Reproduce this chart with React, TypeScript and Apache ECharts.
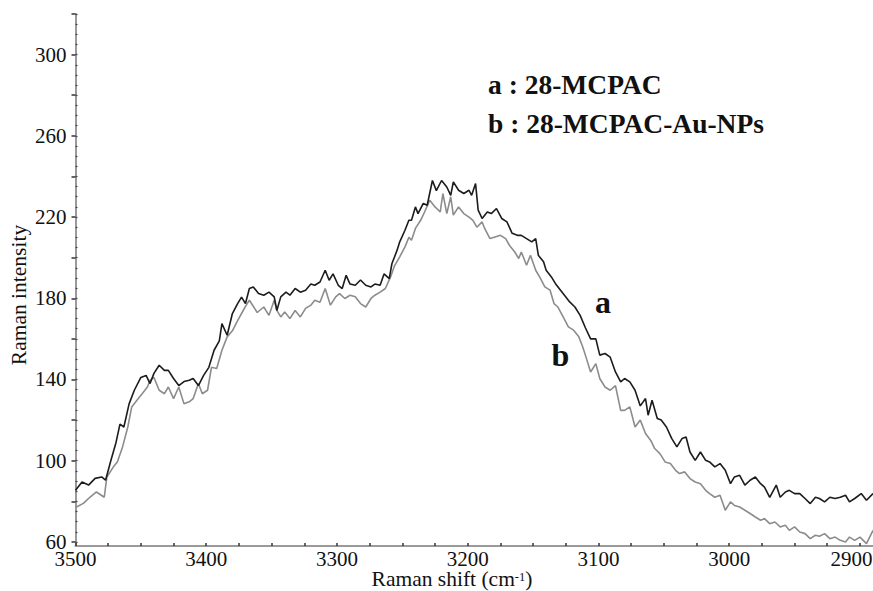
import React, { useEffect, useRef } from "react";
import * as echarts from "echarts";

// Raman shift (cm-1) and intensity for curve a : 28-MCPAC
const shiftA = [
  3500, 3495, 3490, 3485, 3480, 3477, 3473, 3469, 3466, 3463, 3459, 3455, 3450, 3446, 3443, 3440, 3436, 3432, 3429, 3425,
  3421, 3417, 3413, 3410, 3406, 3402, 3398, 3394, 3390, 3388, 3384, 3380, 3376, 3373, 3370, 3367, 3364, 3360, 3356, 3352,
  3348, 3346, 3343, 3339, 3336, 3332, 3328, 3324, 3320, 3317, 3313, 3309, 3306, 3303, 3299, 3296, 3293, 3290, 3286, 3282,
  3278, 3274, 3271, 3267, 3264, 3260, 3258, 3254, 3252, 3248, 3245, 3243, 3240, 3238, 3234, 3231, 3227, 3224, 3220, 3216,
  3213, 3211, 3207, 3203, 3199, 3197, 3194, 3192, 3189, 3185, 3182, 3178, 3174, 3170, 3166, 3162, 3159, 3155, 3151, 3148,
  3146, 3142, 3140, 3136, 3133, 3129, 3126, 3122, 3118, 3114, 3110, 3106, 3102, 3099, 3095, 3091, 3087, 3083, 3080, 3076,
  3072, 3068, 3064, 3062, 3059, 3055, 3052, 3048, 3044, 3040, 3036, 3033, 3030, 3026, 3022, 3018, 3015, 3011, 3007, 3003,
  2999, 2996, 2992, 2988, 2984, 2980, 2976, 2973, 2969, 2964, 2961, 2957, 2954, 2950, 2946, 2942, 2938, 2934, 2931, 2927,
  2923, 2919, 2915, 2911, 2908, 2904, 2899, 2895, 2890,
];
const intensityA = [
  85.4, 89.5, 88, 91.3, 92, 90.4, 100, 109, 118, 116.6, 128, 134.7, 141, 142, 138, 143, 147, 144.5, 144.5, 140.5,
  137, 139, 139.6, 140.5, 137, 142, 146, 154.4, 159, 167.5, 161.8, 172.5, 177.4, 180.6, 177.4, 184.8, 185.6, 182.3, 181.5, 183,
  180.7, 174, 180.7, 183, 181.5, 184.8, 183, 184, 187, 186.4, 188, 193.8, 188.9, 192, 186.4, 184.8, 191.3, 187, 186.4, 189,
  186.4, 185.6, 187, 186.4, 192, 189.7, 197, 203.7, 207.8, 213.5, 218.4, 218.4, 225, 221.7, 226.7, 225.8, 238, 233, 238, 234.8,
  230.7, 237.3, 233.2, 231.6, 233.2, 230.7, 236.5, 223.4, 219.3, 222.5, 221.7, 224.2, 219.3, 217.6, 212, 211, 211, 209.4, 207.8, 209.4,
  201.2, 198, 193.8, 190.5, 187.3, 184, 181.5, 178.2, 175.7, 171.6, 165.5, 160, 160, 152, 152.8, 151, 143.7, 138.8, 140.5, 138.8,
  134.7, 127, 130.6, 122.4, 129.8, 120.8, 120, 116.6, 111, 106.8, 111, 111.7, 104.3, 100.2, 104.3, 100.2, 99.4, 97, 98.6, 95.3,
  88.7, 92, 92.8, 88, 90.4, 92, 88.7, 87, 82, 88, 82, 84.6, 85.4, 83.8, 83.8, 81.4, 78.9, 82, 81.4, 79.7,
  82, 81.4, 82, 83, 79.7, 81.4, 83.8, 80.5, 83.8,
];

// Raman shift (cm-1) and intensity for curve b : 28-MCPAC-Au-NPs
const shiftB = [
  3500, 3494, 3489, 3484, 3478, 3476, 3471, 3468, 3464, 3460, 3457, 3453, 3449, 3445, 3443, 3440, 3436, 3432, 3429, 3425,
  3421, 3417, 3413, 3410, 3406, 3403, 3399, 3396, 3392, 3388, 3384, 3380, 3376, 3373, 3370, 3367, 3361, 3356, 3352, 3348,
  3346, 3343, 3340, 3336, 3332, 3328, 3324, 3320, 3317, 3313, 3309, 3305, 3301, 3298, 3294, 3290, 3286, 3282, 3278, 3274,
  3271, 3267, 3263, 3259, 3256, 3252, 3248, 3245, 3243, 3240, 3236, 3233, 3229, 3225, 3221, 3219, 3216, 3213, 3211, 3207,
  3203, 3199, 3196, 3193, 3189, 3187, 3183, 3179, 3175, 3171, 3168, 3164, 3161, 3159, 3155, 3152, 3148, 3145, 3141, 3137,
  3134, 3131, 3127, 3123, 3119, 3115, 3112, 3110, 3106, 3102, 3099, 3095, 3091, 3087, 3083, 3080, 3076, 3072, 3068, 3064,
  3060, 3057, 3053, 3049, 3045, 3041, 3038, 3034, 3030, 3026, 3022, 3018, 3015, 3011, 3007, 3003, 2999, 2996, 2992, 2988,
  2984, 2980, 2976, 2973, 2969, 2965, 2961, 2957, 2954, 2950, 2946, 2942, 2938, 2934, 2931, 2927, 2923, 2919, 2915, 2911,
  2908, 2904, 2900, 2895, 2890,
];
const intensityB = [
  77, 79, 82, 84.6, 82, 92, 97, 99.4, 106.8, 116.6, 126.5, 129.8, 133, 136.3, 139.6, 141, 134.7, 133, 136.3, 130.6,
  136.3, 128, 129, 130.6, 138, 133, 134.7, 146, 145.4, 154.4, 161, 164, 169, 172.5, 176, 179, 173, 175.7, 171.6, 179,
  174, 170.8, 173.3, 170, 174, 170.8, 175, 176.6, 179, 178, 184.8, 176.6, 180.7, 182.3, 179.9, 181.5, 180.7, 177.4, 175.7, 179.9,
  181.5, 183, 184.8, 190.5, 196, 200.4, 205.3, 210, 208.6, 214.4, 218.4, 222.5, 228.3, 225, 222.5, 231.6, 221.7, 230, 221, 225,
  221.7, 220, 218.4, 215, 217.6, 214.4, 209.4, 210.2, 211, 209.4, 206, 202.8, 199.6, 202.8, 196.3, 201.2, 193.8, 190.5, 185.6, 184,
  177.4, 175.7, 170.8, 165.9, 164.3, 161, 156, 152, 143.7, 147.8, 140.5, 136.3, 134.7, 137, 124.8, 124.8, 126.5, 116.6, 120, 113.4,
  110, 106, 103.5, 99.4, 98.6, 95.3, 93.7, 94.5, 91.2, 89.5, 88.7, 85.4, 83.8, 82, 83, 75.6, 79.7, 78, 77.2, 75.6,
  74, 72.3, 70.7, 71.5, 69, 69.8, 67.4, 68.2, 65.7, 67.4, 64.9, 64.1, 61.6, 63.3, 62.8, 64.1, 61.6, 62.4, 60.8, 60,
  62.4, 60.8, 62.4, 59.2, 65.7,
];

// Axis settings (x axis runs from high to low wavenumber)
const X_START = 3500; // left end of the x axis
const X_END = 2890; // right end of the x axis
const X_TICK_STEP = 25;
const X_LABEL_STEP = 100;
const X_LAST_LABEL = 2900;
const yLabelValues = [60, 100, 140, 180, 220, 260, 300];
const yMajorTicks = [60, 80, 100, 120, 140, 160, 180, 200, 220, 240, 260, 280, 300, 320];
const yMinorTicks = [
  60, 65, 70, 75, 80, 85, 90, 95, 100, 105, 110, 115, 120, 125, 130, 135, 140, 145, 150, 155, 160, 165, 170, 175,
  180, 185, 190, 195, 200, 205, 210, 215, 220, 225, 230, 235, 240, 245, 250, 255, 260, 265, 270, 275, 280, 285,
  290, 295, 300, 305, 310, 315, 320,
];
const legendLines = ["a : 28-MCPAC", "b : 28-MCPAC-Au-NPs"];
const curveLabels = ["a", "b"];

const FONT = "'Liberation Serif', 'Times New Roman', serif";

export default function App() {
  const ref = useRef<HTMLDivElement>(null);

  useEffect(() => {
    if (!ref.current) return;
    const chart = echarts.init(ref.current, undefined, { renderer: "svg" });
    // x is plotted as the distance from the left end (3500 cm-1), labels give the shift back
    const dataA = shiftA.map((x, i) => [X_START - x, intensityA[i]]);
    const dataB = shiftB.map((x, i) => [X_START - x, intensityB[i]]);

    chart.setOption({
      animation: false,
      backgroundColor: "#ffffff",
      grid: { left: 75.5, right: 0, top: 14, bottom: 45, outerBoundsMode: "none", containLabel: false },
      xAxis: {
        type: "value",
        min: 0,
        max: X_START - X_END,
        interval: X_TICK_STEP,
        axisLine: { show: true, onZero: false, lineStyle: { color: "#9a9a9a", width: 2 } },
        axisTick: {
          show: true,
          inside: true,
          length: 3,
          lineStyle: { color: "#333", width: 1.5 },
        },
        axisLabel: {
          formatter: (v: number) => {
            if (Math.round(v) % X_LABEL_STEP !== 0) return "";
            const shift = X_START - Math.round(v);
            return shift === X_LAST_LABEL ? `{edge|${shift}}` : String(shift);
          },
          fontFamily: FONT,
          fontSize: 21,
          lineHeight: 17,
          color: "#111",
          margin: 4,
          showMaxLabel: false,
          rich: {
            edge: { fontFamily: FONT, fontSize: 21, lineHeight: 17, color: "#111", padding: [0, 17, 0, 0] },
          },
        },
        splitLine: { show: false },
      },
      yAxis: [
        {
          type: "value",
          min: 58,
          max: 320,
          axisLine: { show: true, onZero: false, lineStyle: { color: "#9a9a9a", width: 2 } },
          axisTick: {
            show: true,
            length: 4,
            customValues: yMajorTicks,
            lineStyle: { color: "#333", width: 1.5 },
          },
          axisLabel: {
            customValues: yLabelValues,
            fontFamily: FONT,
            fontSize: 21,
            lineHeight: 15,
            color: "#111",
            margin: 9,
          },
          splitLine: { show: false },
        },
        {
          type: "value",
          position: "left",
          min: 58,
          max: 320,
          axisLine: { show: false, onZero: false },
          axisTick: {
            show: true,
            inside: true,
            length: 2,
            customValues: yMinorTicks,
            lineStyle: { color: "#444", width: 1.2 },
          },
          axisLabel: { show: false },
          splitLine: { show: false },
        },
      ],
      series: [
        {
          name: "a",
          type: "line",
          data: dataA,
          showSymbol: false,
          symbol: "none",
          lineStyle: { color: "#1c1c1c", width: 1.6 },
          z: 3,
        },
        {
          name: "b",
          type: "line",
          data: dataB,
          showSymbol: false,
          symbol: "none",
          lineStyle: { color: "#8c8c8c", width: 1.6 },
          z: 2,
        },
      ],
      graphic: [
        {
          type: "text",
          x: 488,
          y: 84,
          style: {
            text: legendLines[0],
            font: `bold 27.5px ${FONT}`,
            fill: "#111",
            align: "left",
            verticalAlign: "middle",
          },
        },
        {
          type: "text",
          x: 488,
          y: 123,
          style: {
            text: legendLines[1],
            font: `bold 27.5px ${FONT}`,
            fill: "#111",
            align: "left",
            verticalAlign: "middle",
          },
        },
        {
          type: "text",
          x: 603,
          y: 302,
          style: {
            text: curveLabels[0],
            font: `bold 32px ${FONT}`,
            fill: "#111",
            align: "center",
            verticalAlign: "middle",
          },
        },
        {
          type: "text",
          x: 560.5,
          y: 355,
          style: {
            text: curveLabels[1],
            font: `bold 32px ${FONT}`,
            fill: "#111",
            align: "center",
            verticalAlign: "middle",
          },
        },
        {
          type: "text",
          x: 19,
          y: 295,
          rotation: Math.PI / 2,
          style: {
            text: "Raman intensity",
            font: `21.5px ${FONT}`,
            fill: "#111",
            align: "center",
            verticalAlign: "middle",
          },
        },
        {
          type: "text",
          x: 452,
          y: 580,
          style: {
            text: "{n|Raman shift (cm}{s|-1}{n|)}",
            align: "center",
            verticalAlign: "middle",
            rich: {
              n: { fontFamily: FONT, fontSize: 21.5, lineHeight: 19, fill: "#111", color: "#111", verticalAlign: "bottom" },
              s: { fontFamily: FONT, fontSize: 12.5, lineHeight: 12, fill: "#111", color: "#111", verticalAlign: "top" },
            },
          },
        },
      ],
    });

    return () => {
      chart.dispose();
    };
  }, []);

  return (
    <div
      ref={ref}
      style={{ position: "fixed", left: 0, top: 0, width: 873, height: 591, background: "#fff" }}
    />
  );
}
